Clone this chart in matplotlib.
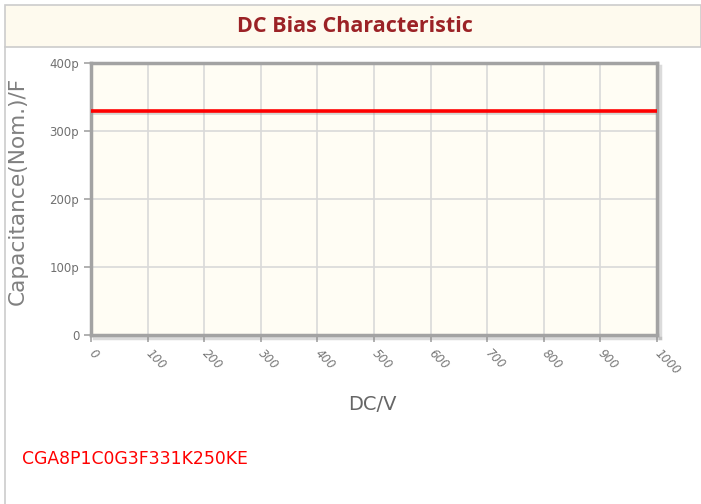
import matplotlib.pyplot as plt
from matplotlib.patches import Rectangle
from matplotlib.lines import Line2D
from matplotlib.ticker import FuncFormatter
import matplotlib.patheffects as pe

# data
dc_volts = [0, 1000]
cap_pf = [330, 330]
x_ticks = [0, 100, 200, 300, 400, 500, 600, 700, 800, 900, 1000]
y_ticks = [0, 100, 200, 300, 400]
part_name = "CGA8P1C0G3F331K250KE"

W, H = 701, 504
fig = plt.figure(figsize=(W / 100, H / 100), dpi=100)
fig.patch.set_facecolor("white")

# title band and left border line
fig.patches.append(Rectangle((5 / W, 1 - 47 / H), 1 - 5 / W, 42 / H,
                             transform=fig.transFigure, facecolor="#fefaee",
                             edgecolor="#cccccc", linewidth=1.2))
fig.lines.append(Line2D([5 / W, 5 / W], [0, 1 - 47 / H], transform=fig.transFigure,
                        color="#cccccc", linewidth=1.2))
fig.text(355 / W, 1 - 26 / H, "DC Bias Characteristic", ha="center", va="center",
         fontsize=15.5, fontweight="bold", color="#9b2226", family="Open Sans")

ax = fig.add_axes([91 / W, 1 - 335 / H, 566 / W, 272 / H])
ax.set_facecolor("#fffdf4")
ax.plot(dc_volts, cap_pf, color="#ff0000", linewidth=2.6, solid_capstyle="butt",
        path_effects=[pe.SimpleLineShadow(offset=(0, -1.5), shadow_color="#999999", alpha=0.4),
                      pe.Normal()], zorder=3)

ax.set_xlim(0, 1000)
ax.set_ylim(0, 400)
ax.set_xticks(x_ticks)
ax.set_yticks(y_ticks)
ax.yaxis.set_major_formatter(FuncFormatter(lambda v, p: "0" if v == 0 else "%dp" % v))
ax.grid(True, color="#d9d9d9", linewidth=1.2)
ax.set_axisbelow(True)

for name, s in ax.spines.items():
    s.set_color("#a3a3a3")
    s.set_linewidth(2.5)
    if name in ("right", "bottom"):
        s.set_path_effects([pe.SimpleLineShadow(offset=(2, -2), shadow_color="#888888", alpha=0.3),
                            pe.Normal()])

ax.tick_params(axis="both", color="#a3a3a3", length=5, width=1.2, colors="#666666",
               labelsize=8.5)
ax.tick_params(axis="x", pad=7)
for lbl in ax.get_xticklabels():
    lbl.set_rotation(-45)
    lbl.set_rotation_mode("anchor")
    lbl.set_ha("left")
    lbl.set_va("center")
    lbl.set_style("italic")
    lbl.set_color("#777777")
for lbl in ax.get_yticklabels():
    lbl.set_color("#707070")

fig.text(18 / W, 1 - 191 / H, "Capacitance(Nom.)/F", rotation=90, ha="center",
         va="center", fontsize=15.6, color="#808080")
fig.text(372 / W, 1 - 405 / H, "DC/V", ha="center", va="center", fontsize=14,
         color="#666666")
fig.text(22 / W, 1 - 459 / H, part_name, ha="left", va="center", fontsize=12.4,
         color="#ff0000")

fig.savefig("out.png", dpi=100)
